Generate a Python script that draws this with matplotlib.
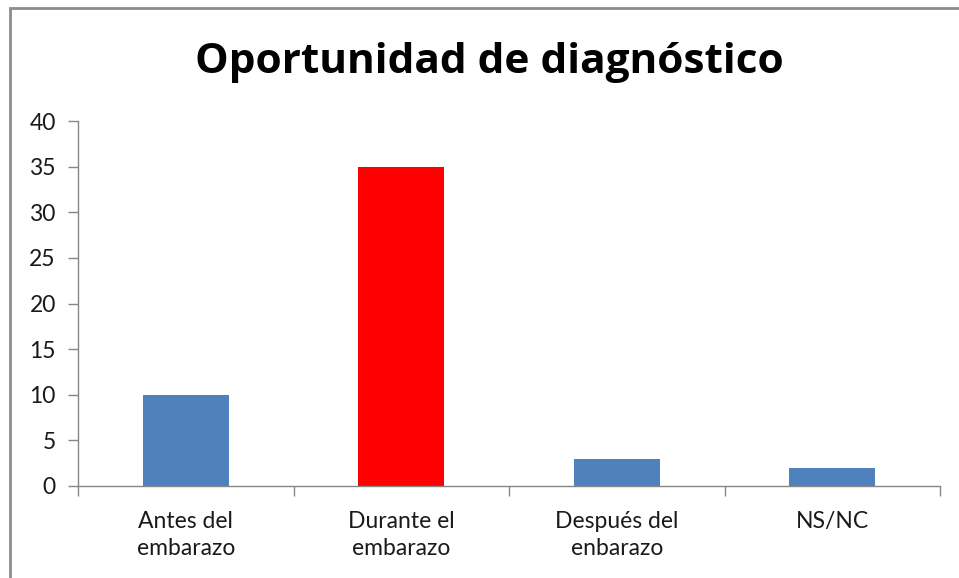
import matplotlib
matplotlib.use("Agg")
import matplotlib.pyplot as plt
from matplotlib.patches import Rectangle

categories = ["Antes del\nembarazo", "Durante el\nembarazo", "Después del\nenbarazo", "NS/NC"]
values = [10, 35, 3, 2]
colors = ["#4F81BD", "#FF0000", "#4F81BD", "#4F81BD"]
yticks = [0, 5, 10, 15, 20, 25, 30, 35, 40]
title = "Oportunidad de diagnóstico"

W, H = 959, 578
fig = plt.figure(figsize=(W / 100, H / 100), dpi=100)
plt.rcParams['font.family'] = ['Lato', 'DejaVu Sans']

# outer chart border
fig.patches.append(Rectangle((10 / W, -0.05), 1.2, (H - 8) / H + 0.05, transform=fig.transFigure,
                             fill=False, edgecolor="#8C8C8C", lw=2))

ax = fig.add_axes([78 / W, 1 - 486 / H, (940 - 78) / W, (486 - 121) / H])
x = list(range(len(categories)))
ax.bar(x, values, width=0.4, color=colors)
ax.set_xlim(-0.5, len(categories) - 0.5)
ax.set_ylim(0, 40)
ax.set_yticks(yticks)
ax.tick_params(axis='y', length=7, width=1, color="#868686", labelsize=16.5, pad=9, labelcolor="#1a1a1a")
ax.set_xticks([i - 0.5 for i in range(len(categories) + 1)], minor=False)
ax.set_xticklabels([""] * (len(categories) + 1))
ax.tick_params(axis='x', which='major', length=7, width=1, color="#868686", direction='out')
ax.set_xticks(x, minor=True)
ax.set_xticklabels(categories, minor=True, fontsize=16.5, linespacing=1.38, color="#1a1a1a")
ax.tick_params(axis='x', which='minor', length=0, pad=18)
for s in ["top", "right"]:
    ax.spines[s].set_visible(False)
for s in ["left", "bottom"]:
    ax.spines[s].set_color("#868686")
    ax.spines[s].set_linewidth(1)

fig.text(489 / W, 1 - 73 / H, title, ha='center', va='baseline', fontsize=30.5, fontweight='bold',
         family=['Open Sans', 'DejaVu Sans'])

fig.savefig("out.png", dpi=100)
